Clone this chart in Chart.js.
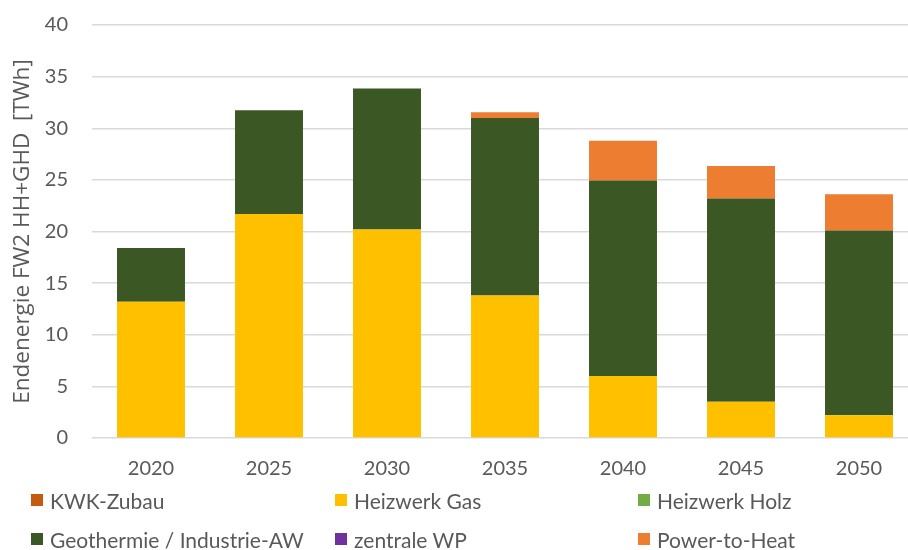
<!DOCTYPE html>
<html>
<head>
<meta charset="utf-8">
<script src="https://cdn.jsdelivr.net/npm/chart.js@4"></script>
<style>
  html, body { margin: 0; padding: 0; background: #fff; overflow: hidden; }
  #wrap { position: relative; width: 918px; height: 550px; }
  #legend { position: absolute; left: 0; top: 0; width: 908px; font-family: Lato, "Open Sans", sans-serif; font-size: 21px; color: #595959; }
  .item { position: absolute; display: flex; align-items: center; white-space: nowrap; height: 24px; }
  .box { width: 12px; height: 12px; margin-right: 7px; }
</style>
</head>
<body>
<div id="wrap">
  <canvas id="graphic" width="918" height="550"></canvas>
  <div id="legend"></div>
</div>
<script>
const years = ["2020", "2025", "2030", "2035", "2040", "2045", "2050"];
const kwkZubau = [0, 0, 0, 0, 0, 0, 0];
const heizwerkGas = [13.2, 21.7, 20.2, 13.8, 6.0, 3.5, 2.2];
const heizwerkHolz = [0, 0, 0, 0, 0, 0, 0];
const geothermie = [5.2, 10.05, 13.65, 17.2, 18.95, 19.7, 17.9];
const zentraleWP = [0, 0, 0, 0, 0, 0, 0];
const powerToHeat = [0, 0, 0, 0.55, 3.85, 3.15, 3.5];

const series = [
  { label: "KWK-Zubau", data: kwkZubau, color: "#C55A11" },
  { label: "Heizwerk Gas", data: heizwerkGas, color: "#FFC000" },
  { label: "Heizwerk Holz", data: heizwerkHolz, color: "#70AD47" },
  { label: "Geothermie / Industrie-AW", data: geothermie, color: "#3B5724" },
  { label: "zentrale WP", data: zentraleWP, color: "#7030A0" },
  { label: "Power-to-Heat", data: powerToHeat, color: "#ED7D31" }
];

const font = "Lato, 'Open Sans', sans-serif";
const ctx = document.getElementById("graphic").getContext("2d");
const chart = new Chart(ctx, {
  type: "bar",
  data: {
    labels: years,
    datasets: series.map(s => ({
      label: s.label,
      data: s.data,
      backgroundColor: s.color,
      borderWidth: 0,
      barPercentage: 0.576,
      categoryPercentage: 1
    }))
  },
  options: {
    responsive: false,
    animation: false,
    layout: { padding: { top: 0, bottom: 58, left: 0, right: 0 } },
    plugins: {
      legend: { display: false },
      tooltip: { enabled: false }
    },
    scales: {
      x: {
        stacked: true,
        grid: { display: false },
        border: { display: false },
        ticks: { color: "#595959", font: { family: font, size: 20 }, padding: 11 }
      },
      y: {
        stacked: true,
        min: 0,
        max: 40,
        afterFit(scale) { scale.width = 92; },
        grid: { color: "#d9d9d9", lineWidth: 1.5, drawTicks: true, tickLength: 11, tickColor: "rgba(0,0,0,0)" },
        border: { display: false },
        ticks: { stepSize: 5, color: "#595959", font: { family: font, size: 20 }, padding: 13 },
        title: {
          display: true,
          text: "Endenergie FW2 HH+GHD  [TWh]",
          color: "#595959",
          font: { family: "'Open Sans', Lato, sans-serif", size: 22.5 },
          padding: { top: 9, bottom: 0 }
        }
      }
    }
  }
});

// legend in 3 columns like the original
const cols = [31, 335, 638];
const rows = [488, 527];
const legend = document.getElementById("legend");
chart.data.datasets.forEach((ds, i) => {
  const item = document.createElement("div");
  item.className = "item";
  item.style.left = cols[i % 3] + "px";
  item.style.top = rows[Math.floor(i / 3)] + "px";
  item.innerHTML = '<span class="box" style="background:' + ds.backgroundColor + '"></span><span>' + ds.label + '</span>';
  legend.appendChild(item);
});
</script>
</body>
</html>
